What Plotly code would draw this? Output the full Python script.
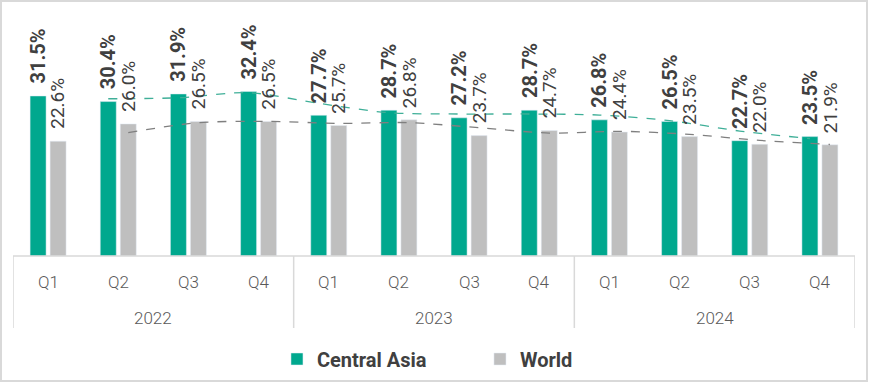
import plotly.graph_objects as go

years = ["2022", "2023", "2024"]
quarters = ["Q1", "Q2", "Q3", "Q4"]
central_asia = [31.5, 30.4, 31.9, 32.4, 27.7, 28.7, 27.2, 28.7, 26.8, 26.5, 22.7, 23.5]
world = [22.6, 26.0, 26.5, 26.5, 25.7, 26.8, 23.7, 24.7, 24.4, 23.5, 22.0, 21.9]

GREEN = "#00A88E"
GREY = "#BFBFBF"
TXT = "#404040"
AX = "#D9D9D9"

W, H = 869, 383
ML, MR, MT, MB = 13, 14, 10, 127
PW, PH = W - ML - MR, H - MT - MB
PX_PER_PCT = 5.08
YMAX = PH / PX_PER_PCT

BARGAP = 0.43
n = len(central_asia)
xs = list(range(n))
off = (1 - BARGAP) / 4

def px2paper_x(px):
    return (px - ML) / PW

def px2paper_y(py):
    return (H - MB - py) / PH

fig = go.Figure()
fig.add_bar(x=xs, y=central_asia, name="Central Asia", marker_color=GREEN)
fig.add_bar(x=xs, y=world, name="World", marker_color=GREY)

# 2-period moving average trendlines
ma_ca = [(central_asia[i - 1] + central_asia[i]) / 2 for i in range(1, n)]
ma_w = [(world[i - 1] + world[i]) / 2 for i in range(1, n)]
fig.add_scatter(x=[i - off for i in range(1, n)], y=ma_ca, mode="lines", showlegend=False,
                line=dict(color="#3FAF98", width=1.3, dash="dash", shape="spline", smoothing=0.8),
                hoverinfo="skip")
fig.add_scatter(x=[i + off for i in range(1, n)], y=ma_w, mode="lines", showlegend=False,
                line=dict(color="#7F7F7F", width=1.3, dash="dash", shape="spline", smoothing=0.8),
                hoverinfo="skip")

ann = []
for i in range(n):
    ann.append(dict(x=i - off, y=central_asia[i], text=f"{central_asia[i]:.1f}%", textangle=-90,
                    showarrow=False, xanchor="center", yanchor="bottom", yshift=10,
                    font=dict(family="Roboto", size=20, color=TXT, weight="bold")))
    ann.append(dict(x=i + off, y=world[i], text=f"{world[i]:.1f}%", textangle=-90,
                    showarrow=False, xanchor="center", yanchor="bottom", yshift=10,
                    font=dict(family="Roboto", size=19, color=TXT)))
# quarter labels
for i in range(n):
    ann.append(dict(x=i, xref="x", y=px2paper_y(282), yref="paper", text=quarters[i % 4],
                    showarrow=False, xanchor="center", yanchor="middle",
                    font=dict(family="Roboto", size=17, color="#595959", weight=300)))
# year labels
for j, yr in enumerate(years):
    ann.append(dict(x=j * 4 + 1.5, xref="x", y=px2paper_y(318), yref="paper", text=yr,
                    showarrow=False, xanchor="center", yanchor="middle",
                    font=dict(family="Roboto", size=17, color="#595959", weight=300)))

shapes = []
shapes.append(dict(type="line", xref="x", yref="paper", x0=-0.5, x1=n - 0.5, y0=0, y1=0,
                   line=dict(color=AX, width=1.5)))
for b in [-0.5, 3.5, 7.5, 11.5]:
    shapes.append(dict(type="line", xref="x", yref="paper", x0=b, x1=b, y0=0, y1=px2paper_y(328),
                       line=dict(color=AX, width=1.5)))
shapes.append(dict(type="rect", xref="paper", yref="paper",
                   x0=px2paper_x(1), x1=px2paper_x(867), y0=px2paper_y(1), y1=px2paper_y(381),
                   line=dict(color=AX, width=2), fillcolor="rgba(0,0,0,0)", layer="below"))

fig.update_layout(
    width=W, height=H,
    margin=dict(l=ML, r=MR, t=MT, b=MB, autoexpand=False),
    paper_bgcolor="white", plot_bgcolor="white",
    barmode="group", bargap=BARGAP, bargroupgap=0.2,
    xaxis=dict(range=[-0.5, n - 0.5], showgrid=False, zeroline=False, showticklabels=False,
               showline=False, fixedrange=True),
    yaxis=dict(range=[0, YMAX], showgrid=False, zeroline=False, showticklabels=False,
               showline=False, fixedrange=True),
    legend=dict(orientation="h", x=0.5546, xanchor="center", y=px2paper_y(359), yanchor="middle",
                font=dict(family="Roboto", size=20, color=TXT, weight="bold"),
                itemwidth=30, entrywidth=158, traceorder="normal"),
    annotations=ann, shapes=shapes,
    showlegend=True,
)

fig.write_html("out.html", config={"displayModeBar": False},
               post_script="document.body.style.margin='0';")
